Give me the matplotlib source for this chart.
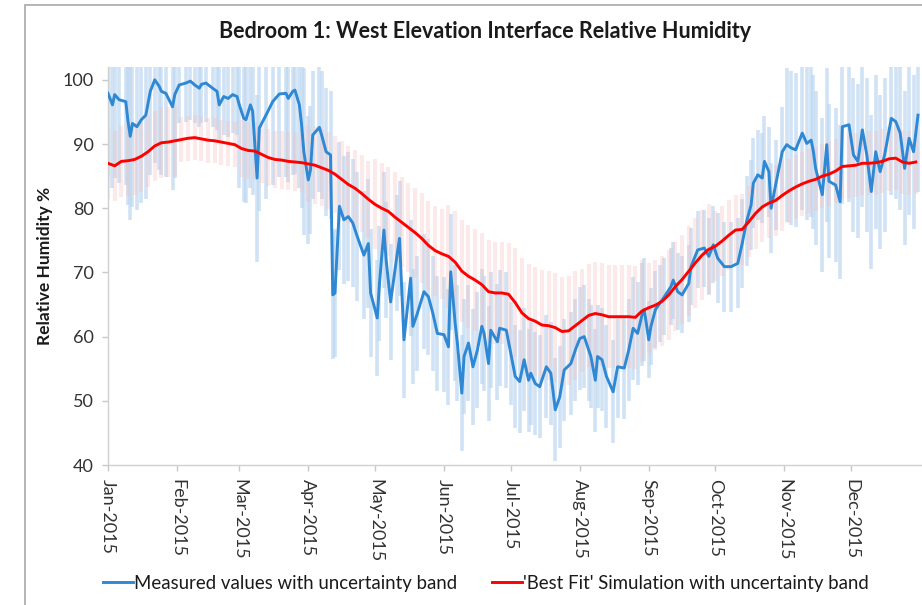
import numpy as np
import pandas as pd
import matplotlib
matplotlib.use("Agg")
import matplotlib.pyplot as plt
import matplotlib.dates as mdates
from matplotlib.patches import Rectangle

plt.rcParams["font.family"] = ["Lato", "DejaVu Sans"]

# measured RH (day of year from 1 Jan 2015, value %)
MEAS_DAY = [0, 2, 3, 5, 8, 9, 10, 11, 13, 15, 17, 19, 21, 23, 24, 26, 29, 30, 32, 35,
            37, 39, 41, 42, 44, 47, 49, 50, 52, 54, 56, 58, 59, 61, 62, 64, 65, 67, 68, 71,
            74, 77, 80, 81, 83, 84, 86, 87, 88, 90, 91, 92, 95, 96, 98, 100, 101, 102, 104, 106,
            108, 110, 112, 115, 117, 118, 121, 122, 124, 125, 127, 130, 131, 133, 136, 137, 139, 142, 144, 146,
            148, 151, 153, 154, 156, 157, 159, 160, 162, 164, 166, 168, 169, 171, 172, 175, 176, 179, 181, 183,
            185, 187, 189, 190, 192, 194, 197, 199, 201, 203, 205, 208, 210, 212, 214, 216, 217, 219, 220, 222,
            224, 227, 229, 232, 234, 236, 238, 240, 241, 243, 244, 246, 248, 250, 253, 254, 256, 258, 261, 262,
            265, 268, 270, 272, 274, 277, 280, 283, 285, 287, 289, 290, 292, 294, 295, 297, 298, 300, 303, 305,
            307, 309, 312, 314, 316, 317, 318, 321, 323, 324, 327, 329, 330, 333, 335, 337, 339, 341, 343, 345,
            347, 349, 352, 354, 356, 358, 360, 362, 364]
MEAS_RH = [97.9, 96.1, 97.7, 96.9, 96.6, 93.5, 91.2, 93.2, 92.7, 93.8, 94.5, 98.2, 100.0, 99.0, 98.2, 97.9, 95.8, 97.7, 99.2, 99.5,
           99.8, 99.2, 98.7, 99.3, 99.5, 98.7, 98.2, 96.1, 97.4, 97.1, 97.7, 97.4, 96.1, 94.0, 93.8, 96.1, 95.1, 84.7, 92.5, 94.5,
           96.6, 97.8, 97.9, 97.1, 98.2, 98.4, 96.1, 93.0, 88.8, 84.4, 86.0, 91.4, 92.6, 91.4, 88.8, 88.3, 66.5, 66.8, 80.3, 78.2,
           78.7, 77.7, 75.6, 72.7, 74.5, 66.8, 62.9, 68.3, 76.6, 71.9, 65.4, 73.0, 75.3, 59.5, 69.1, 61.6, 63.6, 67.0, 66.2, 63.6,
           60.5, 60.3, 58.4, 70.1, 62.1, 59.0, 51.2, 56.9, 59.0, 55.3, 57.9, 61.6, 60.5, 55.8, 61.0, 59.2, 61.3, 61.0, 57.4, 53.8,
           53.0, 56.4, 53.2, 54.3, 52.7, 52.2, 55.3, 54.3, 48.6, 50.6, 54.8, 55.8, 57.9, 59.7, 60.0, 57.9, 56.9, 53.2, 56.9, 56.4,
           53.8, 51.4, 55.3, 55.1, 57.9, 61.3, 60.5, 63.4, 64.2, 59.5, 61.6, 64.2, 65.2, 66.2, 67.8, 68.8, 67.0, 66.5, 68.3, 70.9,
           73.5, 73.8, 72.5, 74.3, 72.2, 70.9, 70.9, 71.4, 74.5, 78.0, 80.5, 83.9, 85.2, 84.7, 87.3, 85.7, 80.0, 83.6, 88.8, 89.9,
           89.4, 89.1, 91.7, 90.1, 90.6, 88.8, 86.2, 82.1, 89.9, 84.2, 83.6, 81.0, 92.7, 93.0, 88.3, 87.3, 92.2, 88.3, 82.6, 88.8,
           85.7, 88.3, 94.0, 93.5, 91.7, 86.2, 90.9, 88.8, 94.5]

# best-fit simulation, every 3 days from 1 Jan 2015
SIM_RH = [87.0, 86.6, 87.3, 87.4, 87.6, 88.1, 88.8, 89.7, 90.2, 90.3, 90.5, 90.7, 90.9, 91.0, 90.8, 90.6,
          90.5, 90.3, 90.1, 89.9, 89.3, 89.0, 88.9, 88.4, 87.9, 87.6, 87.5, 87.3, 87.2, 87.1, 86.9, 86.7,
          86.3, 85.9, 85.3, 84.5, 83.7, 83.1, 82.3, 81.4, 80.6, 80.0, 79.5, 78.6, 77.8, 77.0, 76.2, 75.3,
          74.2, 73.4, 72.9, 72.5, 71.6, 70.2, 69.4, 68.8, 68.1, 67.0, 66.8, 66.8, 66.6, 65.3, 63.7, 62.8,
          62.4, 61.8, 61.7, 61.4, 60.8, 60.9, 61.7, 62.5, 63.3, 63.6, 63.4, 63.1, 63.1, 63.1, 63.1, 63.0,
          64.0, 64.5, 64.9, 65.5, 66.5, 67.8, 68.9, 70.2, 71.5, 72.7, 73.6, 74.1, 74.9, 75.8, 76.6, 76.7,
          77.9, 79.2, 80.2, 80.8, 81.2, 82.0, 82.7, 83.3, 83.8, 84.2, 84.5, 85.0, 85.3, 85.8, 86.5, 86.6,
          86.7, 87.0, 87.0, 87.1, 87.3, 87.7, 87.8, 87.2, 87.0, 87.2]

# uncertainty half-widths by month (Jan..Dec), RH %
MEAS_UNC = [13, 6, 13, 10, 9, 9, 8, 8, 6, 7, 12, 12]
SIM_UNC = [5.5, 3.5, 4.5, 6, 7, 8, 8.5, 8, 7, 5.5, 5, 5]

LABELS = ["Measured values with uncertainty band",
          "'Best Fit' Simulation with uncertainty band"]
TITLE = "Bedroom 1: West Elevation Interface Relative Humidity"

start = pd.Timestamp("2015-01-01")
meas_t = start + pd.to_timedelta(MEAS_DAY, unit="D")
sim_t = pd.date_range(start, periods=len(SIM_RH), freq="3D")
meas = np.array(MEAS_RH)
sim = np.array(SIM_RH)
meas_u = np.array(MEAS_UNC)[meas_t.month - 1]
sim_u = np.array(SIM_UNC)[sim_t.month - 1]
months = pd.date_range(start, periods=12, freq="MS")

fig = plt.figure(figsize=(9.22, 6.05), dpi=100)
ax = fig.add_axes([108 / 922, 1 - 465 / 605, 1 - 108 / 922, (465 - 67) / 605])

# uncertainty bands as thin vertical bars
ax.vlines(meas_t, meas - meas_u, meas + meas_u, color="#bcd7f0", lw=2.6, alpha=0.7, zorder=1)
ax.vlines(sim_t, sim - sim_u, sim + sim_u, color="#f7c2c2", lw=3.0, alpha=0.35, zorder=2)

l1, = ax.plot(meas_t, meas, color="#2f88d4", lw=2.1, zorder=3, solid_joinstyle="round")
l2, = ax.plot(sim_t, sim, color="#ff0000", lw=2.1, zorder=4, solid_joinstyle="round")

ax.set_ylim(40, 102)
ax.set_yticks(np.arange(40, 101, 10))
ax.set_xlim(start, start + pd.Timedelta(days=365.8))
ax.set_xticks(months)
ax.xaxis.set_major_formatter(mdates.DateFormatter("%b-%Y"))

for s in ["top", "right"]:
    ax.spines[s].set_visible(False)
for s in ["left", "bottom"]:
    ax.spines[s].set_color("#d0d0d0")
    ax.spines[s].set_linewidth(1.0)
ax.tick_params(axis="both", colors="#c8c8c8", length=4, width=1.0, labelcolor="#333333",
               labelsize=13)
ax.tick_params(axis="y", pad=6)
ax.tick_params(axis="x", pad=6)
plt.setp(ax.get_xticklabels(), rotation=-90, ha="center", va="top")

ax.set_ylabel("Relative Humidity %", fontsize=12.5, fontweight="bold", color="#1a1a1a", labelpad=7)
fig.text(485 / 922, 1 - 32 / 605, TITLE, ha="center", va="center", fontsize=15.5,
         fontweight="bold", color="#1a1a1a")

fig.legend([l1, l2], LABELS, loc="center", bbox_to_anchor=(486 / 922, 1 - 583 / 605),
           ncol=2, frameon=False, fontsize=13.4, handlelength=1.6, handletextpad=0.05,
           columnspacing=1.9, labelcolor="#1a1a1a")

# outer chart frame
fig.patches.append(Rectangle((24.5 / 922, -0.05), 1.2, 1.05 - 5.5 / 605, transform=fig.transFigure,
                             fill=False, edgecolor="#b4b4b4", lw=1.4, clip_on=False))

fig.savefig("out.png", dpi=100)
